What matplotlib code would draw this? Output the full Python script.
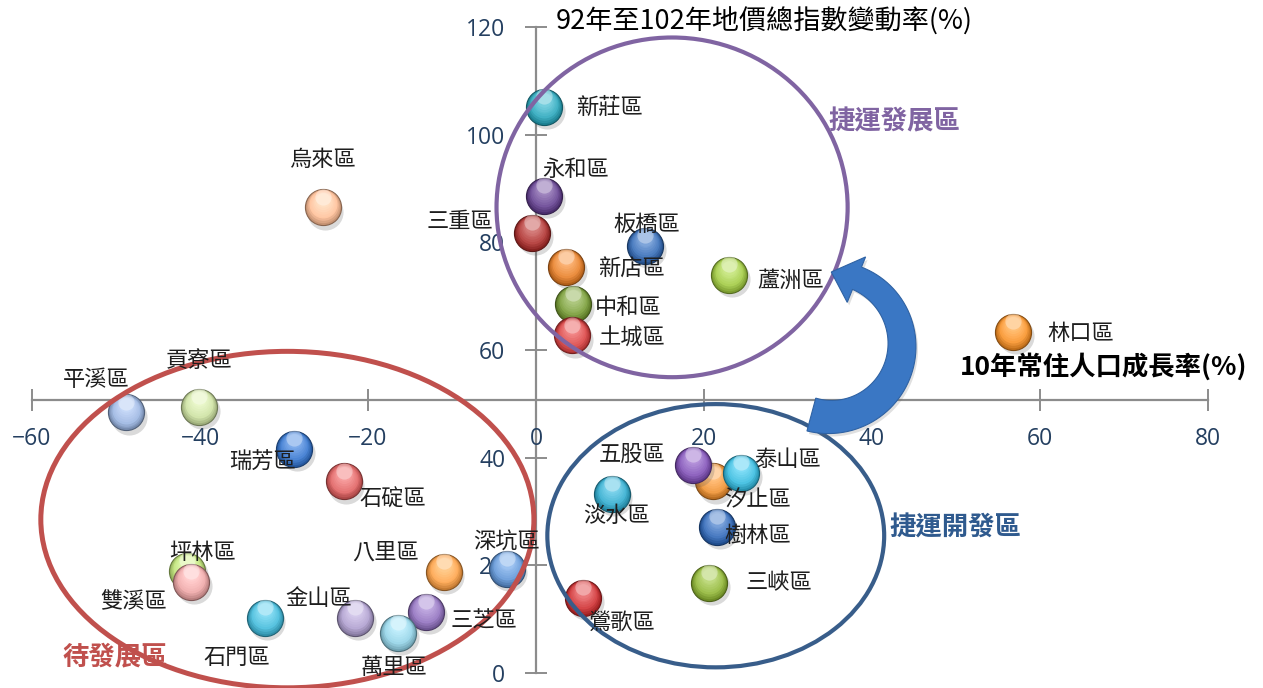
import numpy as np
import matplotlib
matplotlib.use('Agg')
import matplotlib.pyplot as plt
from matplotlib.colors import to_rgb
from matplotlib.patches import Ellipse, Polygon
from matplotlib.transforms import ScaledTranslation

plt.rcParams['font.family'] = ['Noto Sans CJK TC', 'DejaVu Sans']

# data: 10年常住人口成長率(%) vs 92年至102年地價總指數變動率(%)
districts = ['永和區', '三重區', '新莊區', '板橋區', '新店區', '蘆洲區', '中和區', '土城區', '林口區',
             '烏來區', '平溪區', '貢寮區', '瑞芳區', '石碇區', '坪林區', '雙溪區', '石門區', '金山區',
             '三芝區', '萬里區', '八里區', '深坑區', '鶯歌區', '汐止區', '五股區', '泰山區', '淡水區',
             '樹林區', '三峽區']
pop_growth = [0.95, -0.5, 0.95, 13.0, 3.6, 23.0, 4.4, 4.3, 56.8,
              -25.4, -48.8, -40.1, -28.8, -22.9, -41.5, -41.1, -32.3, -21.5,
              -13.1, -16.4, -11.0, -3.5, 5.6, 21.1, 18.7, 24.4, 9.0,
              21.6, 20.6]
land_price = [88.6, 81.7, 105.1, 79.3, 75.5, 73.9, 68.5, 62.7, 63.4,
              86.5, 48.4, 49.4, 41.6, 35.6, 19.0, 16.9, 10.3, 10.3,
              11.4, 7.5, 18.7, 19.3, 13.9, 35.6, 38.7, 37.2, 33.3,
              27.1, 16.7]
colors = ['#5E3A8A', '#A82A28', '#23A0B5', '#2E65B0', '#E07820', '#9BC43C', '#70952E', '#D23A3A', '#F08A20',
          '#F8B890', '#94AEDA', '#C6DA9A', '#2F6FC8', '#D95A5A', '#B8DC70', '#E8A0A0', '#3CB4D4', '#A898C8',
          '#8A6AB8', '#8CCCE0', '#F59A40', '#5A8FD0', '#C8282A', '#E88A2A', '#7A4AB0', '#30B4D8', '#2AA5C8',
          '#2860B0', '#8AB030']

# label offsets in pixels (dx right, dy down) from the marker centre
label_offsets = {
    '新莊區': (65, 0), '永和區': (32, -27), '三重區': (-72, -12), '板橋區': (2, -22),
    '新店區': (65, 3), '蘆洲區': (61, 5), '中和區': (55, 3), '土城區': (60, 3),
    '林口區': (68, 2), '烏來區': (0, -48), '平溪區': (-30, -33), '貢寮區': (0, -47),
    '瑞芳區': (-32, 13), '石碇區': (49, 18), '坪林區': (15, -18), '雙溪區': (-57, 20),
    '石門區': (-28, 40), '金山區': (-37, -19), '萬里區': (-4, 35), '三芝區': (58, 10),
    '八里區': (-58, -20), '深坑區': (0, -27), '鶯歌區': (39, 24), '五股區': (-61, -10),
    '泰山區': (47, -13), '汐止區': (44, 18), '淡水區': (5, 22), '樹林區': (40, 8),
    '三峽區': (70, 0),
}

x_ticks = [-60, -40, -20, 0, 20, 40, 60, 80]
y_ticks = [0, 20, 40, 60, 80, 100, 120]

W, H = 1263, 688
fig = plt.figure(figsize=(W / 100, H / 100), dpi=100)
ax = fig.add_axes([32 / W, 15 / H, 1176 / W, 646 / H])
ax.set_xlim(-60, 80)
ax.set_ylim(0, 120)

for s in ['top', 'right']:
    ax.spines[s].set_visible(False)
ax.spines['left'].set_position(('data', 0))
ax.spines['bottom'].set_position(('data', 50.8))
for s in ['left', 'bottom']:
    ax.spines[s].set_color('#8C8C8C')
    ax.spines[s].set_linewidth(1.6)
    ax.spines[s].set_zorder(0.5)
ax.set_xticks(x_ticks)
ax.set_yticks(y_ticks)
ax.tick_params(direction='inout', length=16, width=1.4, color='#8C8C8C',
               labelcolor='#243F60', labelsize=16.5)
ax.tick_params(axis='x', pad=12)
ax.tick_params(axis='y', pad=14)
for lab in ax.get_xticklabels() + ax.get_yticklabels():
    lab.set_family('Open Sans')


def sphere(x, y, color, d=26):
    base = np.array(to_rgb(color))
    dark = base * 0.55
    sh = ax.transData + ScaledTranslation(2 / 72, -3 / 72, fig.dpi_scale_trans)
    ax.scatter(x, y, s=d ** 2, color='0.35', alpha=0.22, lw=0, transform=sh, zorder=2)
    ax.scatter(x, y, s=d ** 2, color=base * 0.8, edgecolors=dark, linewidths=0.8, zorder=2)
    for k in range(1, 9):
        f = 1 - k * 0.075
        c = np.clip(base * 0.8 + (1 - base * 0.8) * k * 0.045 + base * 0.2 * min(k, 3) / 3, 0, 1)
        off = ax.transData + ScaledTranslation(0, (1 - f) * d * 0.35 / 72, fig.dpi_scale_trans)
        ax.scatter(x, y, s=(d * f) ** 2, color=c, lw=0, transform=off, zorder=2)
    hl = ax.transData + ScaledTranslation(0, d * 0.3 / 72, fig.dpi_scale_trans)
    ax.scatter(x, y, s=(d * 0.45) ** 2, color='white', alpha=0.35, lw=0, transform=hl, zorder=2)


for name, px, py, c in zip(districts, pop_growth, land_price, colors):
    sphere(px, py, c)

for name, px, py in zip(districts, pop_growth, land_price):
    dx, dy = label_offsets[name]
    ax.annotate(name, (px, py), xytext=(dx * 0.72, -dy * 0.72), textcoords='offset points',
                ha='center', va='center', fontsize=16, color='#1E1E1E', zorder=5)

# zones
ax.add_patch(Ellipse((16.2, 86.5), 41.8, 63.1, fill=False, ec='#8064A2', lw=3.0, zorder=4))
ax.add_patch(Ellipse((-29.6, 28.5), 58.7, 62.5, fill=False, ec='#C0504D', lw=3.6, zorder=4,
                     clip_on=False))
ax.add_patch(Ellipse((21.4, 25.5), 40.1, 48.9, fill=False, ec='#385D8A', lw=3.0, zorder=4))

# curved arrow (built in figure pixels)
cx, cy, R = 830, 345, 72
th = np.radians(np.linspace(-105, 68, 60))
wd = np.linspace(34, 24, 60)
outer = [(cx + (R + w / 2) * np.cos(t), cy - (R + w / 2) * np.sin(t)) for t, w in zip(th, wd)]
inner = [(cx + (R - w / 2) * np.cos(t), cy - (R - w / 2) * np.sin(t)) for t, w in zip(th, wd)]
tb, tt = np.radians(68), np.radians(89)
head = [(cx + 95 * np.cos(tb), cy - 95 * np.sin(tb)),
        (cx + 73 * np.cos(tt), cy - 73 * np.sin(tt)),
        (cx + 46 * np.cos(tb), cy - 46 * np.sin(tb))]
verts = outer + head + inner[::-1]
verts = [(vx / W, 1 - vy / H) for vx, vy in verts]
shadow = [(vx + 2 / W, vy - 3 / H) for vx, vy in verts]
fig.patches.append(Polygon(shadow, closed=True, transform=fig.transFigure, fc='0.4', alpha=0.2,
                           lw=0, zorder=4))
fig.patches.append(Polygon(verts, closed=True, transform=fig.transFigure, fc='#3A77C4',
                           ec='#2F62A3', lw=0.8, zorder=4))

ax.text(894 / W, 1 - 122 / H, '捷運發展區', transform=fig.transFigure, ha='center', va='center',
        fontsize=19, fontweight='bold', color='#8064A2')
ax.text(955 / W, 1 - 528 / H, '捷運開發區', transform=fig.transFigure, ha='center', va='center',
        fontsize=19, fontweight='bold', color='#2F5A8E')
ax.text(115 / W, 1 - 657 / H, '待發展區', transform=fig.transFigure, ha='center', va='center',
        fontsize=19, fontweight='bold', color='#C0504D')

# axis titles
fig.text(556 / W, 1 - 22 / H, '92年至102年地價總指數變動率(%)', ha='left', va='center',
         fontsize=19.5, color='black')
fig.text(1247 / W, 1 - 367 / H, '10年常住人口成長率(%)', ha='right', va='center',
         fontsize=19, fontweight='bold', color='black')

fig.savefig('out.png', dpi=100)
